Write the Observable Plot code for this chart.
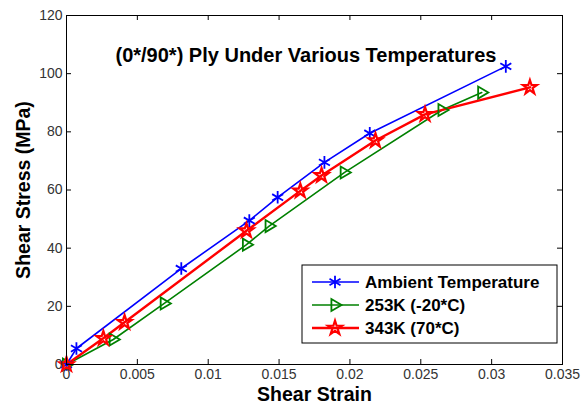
<!DOCTYPE html>
<html>
<head>
<meta charset="utf-8">
<script src="https://cdn.jsdelivr.net/npm/d3@7"></script>
<script src="https://cdn.jsdelivr.net/npm/@observablehq/plot@0.6"></script>
<style>
  html, body { margin: 0; padding: 0; background: #fff; }
  #wrap { position: relative; width: 582px; height: 412px; font-family: Arial, "Liberation Sans", Helvetica, sans-serif; }
  #legend { position: absolute; left: 0; top: 0; pointer-events: none; }
</style>
</head>
<body>
<div id="wrap"></div>
<script>
// ---- data ----
const seriesNames = ["Ambient Temperature", "253K (-20*C)", "343K (70*C)"];
const ambientStrain = [0, 0.0007, 0.0081, 0.0129, 0.0149, 0.0182, 0.0214, 0.0310];
const ambientStress = [0, 5.5, 33, 49.5, 57.5, 69.5, 79.5, 102.5];
const coldStrain = [0, 0.0033, 0.0069, 0.0127, 0.0143, 0.0196, 0.0265, 0.0293];
const coldStress = [0, 8.6, 21, 41.2, 47.6, 66, 87.5, 93.5];
const hotStrain = [0, 0.0026, 0.0041, 0.0127, 0.0165, 0.0180, 0.0218, 0.0253, 0.0327];
const hotStress = [0, 9, 14.5, 46, 59.7, 65, 77, 86, 95.3];
const xTicks = [0, 0.005, 0.01, 0.015, 0.02, 0.025, 0.03, 0.035];
const yTicks = [0, 20, 40, 60, 80, 100, 120];
const titleText = "(0*/90*) Ply Under Various Temperatures";
const xLabel = "Shear Strain";
const yLabel = "Shear Stress (MPa)";

// ---- styling ----
const colors = ["#0000ff", "#008000", "#ff0000"];
const lineWidths = [1.6, 1.6, 2.4];
const triangleRight = {
  draw(context, size) {
    const r = Math.sqrt(size / Math.PI);
    context.moveTo(r * 1.1, 0);
    context.lineTo(-r * 0.6, -r);
    context.lineTo(-r * 0.6, r);
    context.closePath();
  }
};
const symbols = [d3.symbolAsterisk, triangleRight, d3.symbolStar];
const radii = [6, 6, 4.4];

const toRows = (xs, ys) => xs.map((x, i) => ({x, y: ys[i]}));
const series = [
  toRows(ambientStrain, ambientStress),
  toRows(coldStrain, coldStress),
  toRows(hotStrain, hotStress)
];

const W = 582, H = 412;
const mL = 66, mR = 20, mT = 15, mB = 48;
const fw = W - mL - mR, fh = H - mT - mB;
const tick = 5;
const font = "Arial, 'Liberation Sans', Helvetica, sans-serif";

const marks = [];
series.forEach((rows, i) => {
  marks.push(Plot.line(rows, {x: "x", y: "y", stroke: colors[i], strokeWidth: lineWidths[i]}));
});
series.forEach((rows, i) => {
  marks.push(Plot.dot(rows, {x: "x", y: "y", stroke: colors[i], strokeWidth: i === 2 ? 2.2 : 1.8, fill: "none", symbol: symbols[i], r: radii[i]}));
});
marks.push(
  Plot.ruleX(xTicks, {insetTop: fh - tick, stroke: "#000", strokeWidth: 1}),
  Plot.ruleX(xTicks, {insetBottom: fh - tick, stroke: "#000", strokeWidth: 1}),
  Plot.ruleY(yTicks, {insetRight: fw - tick, stroke: "#000", strokeWidth: 1}),
  Plot.ruleY(yTicks, {insetLeft: fw - tick, stroke: "#000", strokeWidth: 1}),
  Plot.frame({stroke: "#000", strokeWidth: 1}),
  Plot.axisX(xTicks, {tickSize: 0, tickPadding: 5, tickFormat: d => String(d), fontSize: 14, fill: "#333", label: null}),
  Plot.axisY(yTicks, {tickSize: 0, tickPadding: 4, tickFormat: d => String(d), fontSize: 14, fill: "#333", label: null}),
  Plot.text([titleText], {frameAnchor: "top-left", dx: 49, dy: 32, textAnchor: "start", fontSize: 20, fontWeight: "bold", fill: "#000"}),
  Plot.text([xLabel], {frameAnchor: "bottom", dy: 36, textAnchor: "middle", fontSize: 19.5, fontWeight: "bold", fill: "#000"}),
  Plot.text([yLabel], {frameAnchor: "left", dx: -43, textAnchor: "middle", rotate: -90, fontSize: 19.5, fontWeight: "bold", fill: "#000"})
);

const chart = Plot.plot({
  width: W, height: H,
  marginLeft: mL, marginRight: mR, marginTop: mT, marginBottom: mB,
  style: {fontFamily: font, background: "#fff", overflow: "visible"},
  x: {domain: [0, 0.035]},
  y: {domain: [0, 120]},
  marks
});
const wrap = document.getElementById("wrap");
wrap.appendChild(chart);

// ---- legend overlay ----
const leg = d3.select(wrap).append("svg").attr("id", "legend").attr("width", W).attr("height", H);
const bx = 302, by = 265, bw = 255, bh = 78;
leg.append("rect").attr("x", bx).attr("y", by).attr("width", bw).attr("height", bh)
  .attr("fill", "#fff").attr("stroke", "#000").attr("stroke-width", 1);
seriesNames.forEach((name, i) => {
  const cy = by + 17 + i * 23;
  leg.append("line").attr("x1", bx + 10).attr("x2", bx + 57).attr("y1", cy).attr("y2", cy)
    .attr("stroke", colors[i]).attr("stroke-width", lineWidths[i]);
  leg.append("path").attr("transform", `translate(${bx + 33},${cy})`)
    .attr("d", d3.symbol(symbols[i], Math.PI * radii[i] * radii[i])())
    .attr("fill", "none").attr("stroke", colors[i]).attr("stroke-width", i === 2 ? 2.2 : 1.8);
  leg.append("text").attr("x", bx + 63).attr("y", cy).attr("dy", "0.35em")
    .attr("font-size", 17).attr("font-weight", "bold").attr("fill", "#000")
    .attr("font-family", font)
    .text(name);
});
</script>
</body>
</html>
